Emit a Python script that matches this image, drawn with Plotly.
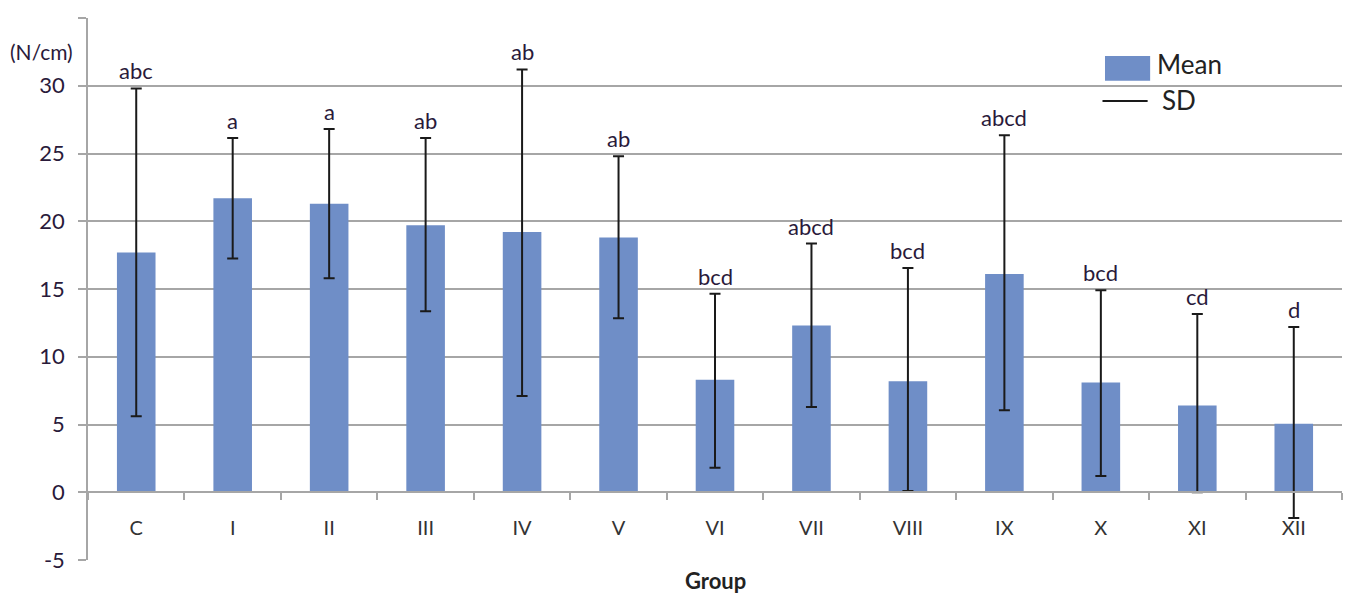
import plotly.graph_objects as go

groups = ["C", "I", "II", "III", "IV", "V", "VI", "VII", "VIII", "IX", "X", "XI", "XII"]
means = [17.7, 21.7, 21.3, 19.7, 19.2, 18.8, 8.3, 12.3, 8.2, 16.1, 8.1, 6.4, 5.05]
sd_plus = [12.1, 4.45, 5.5, 6.45, 12.0, 6.0, 6.35, 6.05, 8.35, 10.25, 6.8, 6.75, 7.15]
sd_minus = [12.1, 4.45, 5.5, 6.35, 12.1, 5.95, 6.5, 6.0, 8.1, 10.05, 6.9, 6.4, 6.95]
letters = ["abc", "a", "a", "ab", "ab", "ab", "bcd", "abcd", "bcd", "abcd", "bcd", "cd", "d"]
yticks = [-5, 0, 5, 10, 15, 20, 25, 30, 35]

FONT = "Lato"
BAR = "#6F8EC7"
GRID = "#A6A6A6"
TXT = "#2a1a3a"

fig = go.Figure()
fig.add_trace(go.Bar(
    x=groups, y=means, name="Mean", width=0.4, showlegend=False,
    marker=dict(color=BAR, line=dict(width=0)),
    error_y=dict(type="data", symmetric=False, array=sd_plus, arrayminus=sd_minus,
                 color="#1a1a1a", thickness=2, width=5.5),
))

for g, m, p, t in zip(groups, means, sd_plus, letters):
    fig.add_annotation(x=g, y=m + p, text=t, showarrow=False, yanchor="bottom",
                       yshift=2, font=dict(family=FONT, size=22, color=TXT))

# axis titles
fig.add_annotation(xref="paper", yref="paper", x=0.5, y=-0.037, text="<b>Group</b>",
                   showarrow=False, yanchor="middle",
                   font=dict(family=FONT, size=22, color="#222222"))
fig.add_annotation(xref="paper", yref="paper", x=-0.0104, y=0.939,
                   text="(N/cm)", showarrow=False, xanchor="right", yanchor="middle",
                   font=dict(family=FONT, size=21, color=TXT))

# legend (drawn manually to match the wide swatch)
fig.add_shape(type="rect", xref="paper", yref="paper", x0=0.811, x1=0.847, y0=0.884, y1=0.930,
              fillcolor=BAR, line=dict(width=0))
fig.add_shape(type="line", xref="paper", yref="paper", x0=0.809, x1=0.845, y0=0.847, y1=0.847,
              line=dict(color="#1a1a1a", width=2))
fig.add_annotation(xref="paper", yref="paper", x=0.851, y=0.915, text="Mean", showarrow=False,
                   xanchor="left", yanchor="middle", font=dict(family=FONT, size=26, color="#222222"))
fig.add_annotation(xref="paper", yref="paper", x=0.855, y=0.849, text="SD", showarrow=False,
                   xanchor="left", yanchor="middle", font=dict(family=FONT, size=26, color="#222222"))

fig.update_layout(
    width=1343, height=585,
    margin=dict(l=80, r=9, t=10, b=33),
    plot_bgcolor="white", paper_bgcolor="white",
    font=dict(family=FONT, size=18, color="#222222"),
    showlegend=False,
)
fig.update_xaxes(
    type="category", anchor="free", position=5 / 40,
    showline=True, linecolor=GRID, linewidth=1.5,
    ticks="outside", tickson="boundaries", ticklen=7, tickcolor=GRID, tickwidth=1.5,
    showgrid=False, ticklabelstandoff=18,
    tickfont=dict(family=FONT, size=20, color="#333333"),
    range=[-0.5, 12.5],
)
fig.update_yaxes(
    range=[-5, 35], tickvals=yticks, ticktext=[str(v) for v in yticks],
    showgrid=True, gridcolor=GRID, gridwidth=1.5,
    showline=True, linecolor=GRID, linewidth=1.5,
    ticks="outside", ticklen=8, tickcolor=GRID, tickwidth=1.5,
    zeroline=False, ticklabelstandoff=9,
    tickfont=dict(family=FONT, size=22, color=TXT),
)

fig.write_html("out.html")
